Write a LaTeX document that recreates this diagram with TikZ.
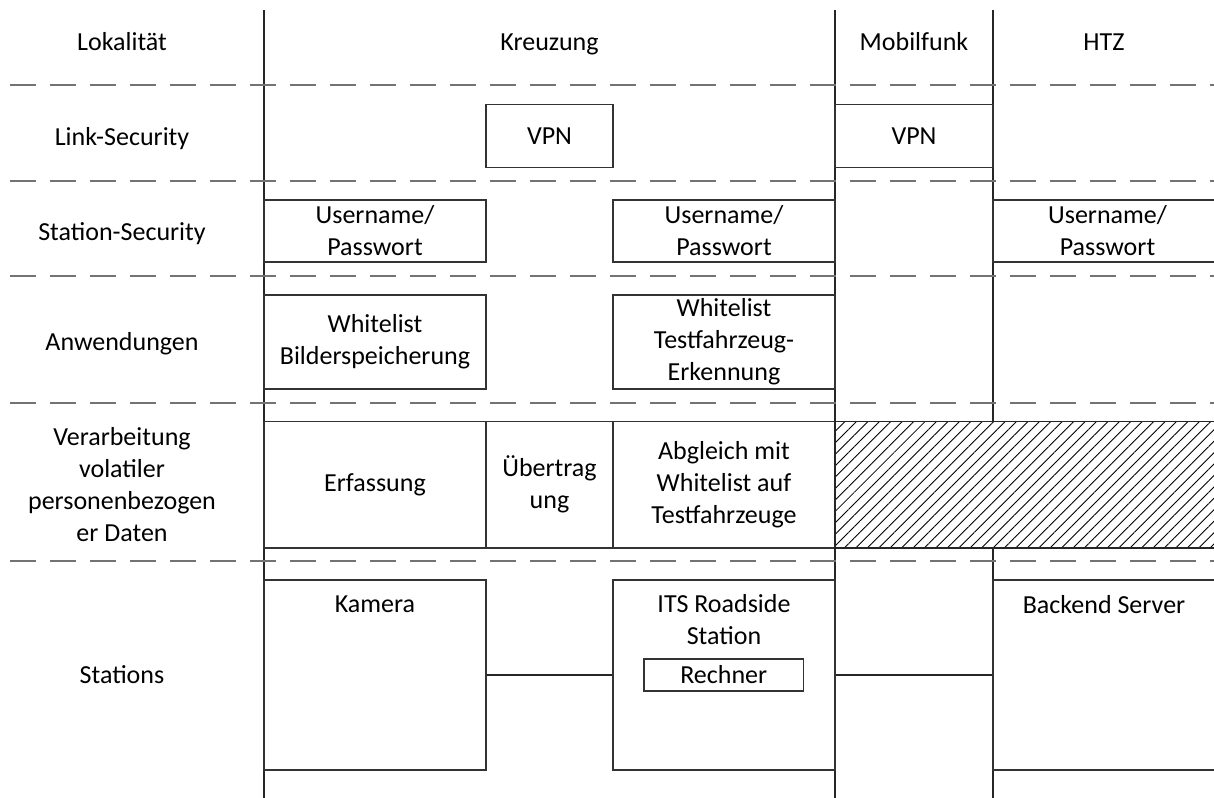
\documentclass[tikz,border=0pt]{standalone}
\usepackage{fontspec}
\setmainfont{Carlito}
\usetikzlibrary{patterns.meta}

\tikzset{
  box/.style={draw=black!80, line width=0.8pt, inner sep=0pt, align=center, minimum width=4.44cm},
  lbl/.style={align=center, inner sep=0pt},
  hd/.style={lbl, text height=0.66em, text depth=0.2em, yshift=-0.08cm},
  sep/.style={draw=black!55, line width=1.1pt, dash pattern=on 0.52cm off 0.28cm},
  col/.style={draw=black!85, line width=0.8pt},
}

\begin{document}
\begin{tikzpicture}[x=0.02cm, y=-0.02cm, font=\fontsize{14.8}{18.2}\selectfont]
    \useasboundingbox (0,0) rectangle (1214,798);

    % Spalten und Zeilen
    \draw[col] (264,10) -- (264,798);
    \draw[col] (835,10) -- (835,798);
    \draw[col] (993,10) -- (993,421.5);
    \draw[col] (993,548) -- (993,798);
    \foreach \y in {85,181,276,403,561}
        \draw[sep] (10,\y) -- (1214,\y);

    \node[hd](lokal)at(122,42) {Lokalität};
    \node[hd](kreuz)at(549.5,42) {Kreuzung};
    \node[hd](mobil)at(914,42) {Mobilfunk};
    \node[hd](htz)at(1104,42) {HTZ};

    \node[hd](link)at(122,137) {Link-Security};
    \node[hd](station)at(122,232) {Station-Security};
    \node[hd](anw)at(122,342) {Anwendungen};
    \node[lbl](verarb)at(122,485) {Verarbeitung\\volatiler\\personenbezogen\\er Daten};
    \node[hd](stations)at(122,675) {Stations};

    % Link-Security
    \node[box, minimum width=2.54cm, minimum height=1.25cm](vpnK)at(549.5,136) {VPN};
    \node[box, minimum width=3.16cm, minimum height=1.25cm](vpnM)at(914,136) {VPN};

    % Station-Security
    \node[box, minimum height=1.24cm](userK)at(375,231) {Username/\\Passwort};
    \node[box, minimum height=1.24cm](userR)at(724,231) {Username/\\Passwort};
    \node[box, minimum width=4.58cm, minimum height=1.24cm](userH)at(1107.5,231) {Username/\\Passwort};

    % Anwendungen
    \node[box, minimum height=1.88cm](wlBild)at(375,342) {Whitelist\\Bilderspeicherung};
    \node[box, minimum height=1.88cm](wlTest)at(724,342) {Whitelist\\Testfahrzeug-\\Erkennung};

    % Verarbeitung
    \node[box, minimum height=2.53cm](erf)at(375,484.75) {Erfassung};
    \node[box, minimum width=2.54cm, minimum height=2.53cm](ueb)at(549.5,484.75) {Übertrag\\ung};
    \node[box, minimum height=2.53cm](abgl)at(724,484.75) {Abgleich mit\\Whitelist auf\\Testfahrzeuge};
    \draw[col, pattern={Lines[angle=45, distance=4.6pt, line width=0.5pt]}] (835,421.5) rectangle (1222,548);

    % Stations
    \node[box, minimum height=3.8cm, label={[anchor=center, yshift=-0.5cm]north:Kamera}](kamera)at(375,675) {};
    \node[box, minimum height=3.8cm, label={[anchor=center, yshift=-0.81cm, align=center]north:ITS Roadside\\Station}](its)at(724,675) {};
    \node[box, minimum width=3.19cm, minimum height=0.64cm](rechner)at(723.75,675) {Rechner};
    \node[box, minimum width=4.58cm, minimum height=3.8cm, label={[anchor=center, yshift=-0.5cm, xshift=-0.07cm]north:Backend Server}](backend)at(1107.5,675) {};

    \draw[col](kamera) -- (its);
    \draw[col](its) -- (backend);
\end{tikzpicture}
\end{document}
